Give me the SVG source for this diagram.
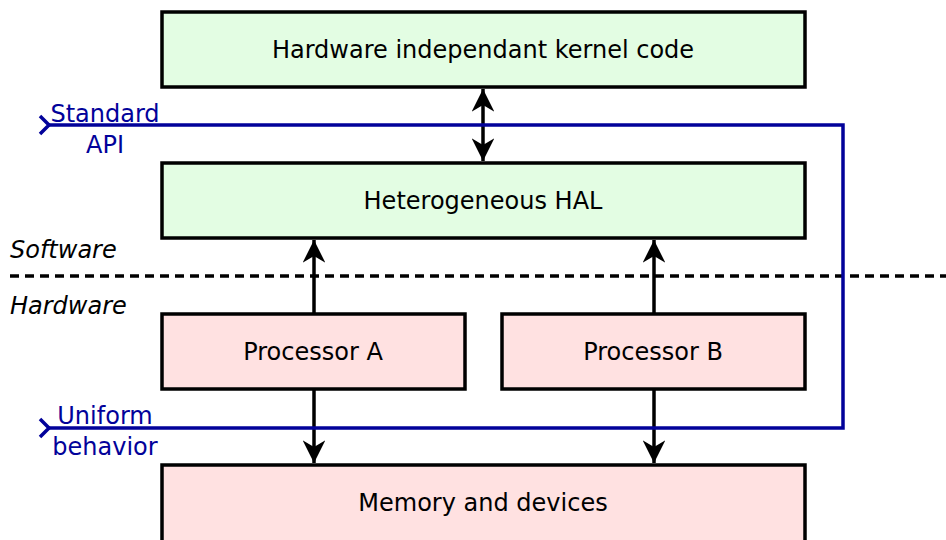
<svg xmlns="http://www.w3.org/2000/svg" width="946" height="540" viewBox="0 0 946 540">
<defs>
<marker id="ah" viewBox="0 0 10 10" refX="10" refY="5" markerWidth="6.5" markerHeight="6.5" markerUnits="strokeWidth" orient="auto-start-reverse">
<path d="M0,0 L10,5 L0,10 L3,5 Z" fill="#000"/>
</marker>
<style>
.sw{fill:#e3fde3;stroke:#000;stroke-width:3.5}
.hw{fill:#ffe1e1;stroke:#000;stroke-width:3.5}
.t{font-family:"DejaVu Sans",sans-serif;font-size:24px;fill:#000;text-anchor:middle}
.it{font-family:"DejaVu Sans",sans-serif;font-size:24px;font-style:italic;fill:#000}
.bt{font-family:"DejaVu Sans",sans-serif;font-size:24px;fill:#02029a;text-anchor:middle}
.c{stroke:#000;stroke-width:3.5;fill:none}
.bl{stroke:#02029a;stroke-width:3.5;fill:none}
</style>
</defs>
<rect width="946" height="540" fill="#fff"/>
<line x1="10" y1="276" x2="946" y2="276" stroke="#000" stroke-width="3.5" stroke-dasharray="9,6"/>
<text class="it" x="10" y="258">Software</text>
<text class="it" x="10" y="314">Hardware</text>
<g id="kernel"><rect class="sw" x="162" y="12" width="643" height="75"/><text class="t" x="483" y="58">Hardware independant kernel code</text></g>
<g id="hal"><rect class="sw" x="162" y="163" width="643" height="75"/><text class="t" x="483" y="209">Heterogeneous HAL</text></g>
<g id="procA"><rect class="hw" x="162" y="314" width="303" height="75"/><text class="t" x="313" y="360">Processor A</text></g>
<g id="procB"><rect class="hw" x="502" y="314" width="303" height="75"/><text class="t" x="653" y="360">Processor B</text></g>
<g id="mem"><rect class="hw" x="162" y="465" width="643" height="90"/><text class="t" x="483" y="511">Memory and devices</text></g>
<g id="connectors">
<line class="c" x1="483" y1="89" x2="483" y2="161" marker-start="url(#ah)" marker-end="url(#ah)"/>
<line class="c" x1="314" y1="314" x2="314" y2="240" marker-end="url(#ah)"/>
<line class="c" x1="654" y1="314" x2="654" y2="240" marker-end="url(#ah)"/>
<line class="c" x1="314" y1="389" x2="314" y2="463" marker-end="url(#ah)"/>
<line class="c" x1="654" y1="389" x2="654" y2="463" marker-end="url(#ah)"/>
</g>
<g id="interfaces">
<path class="bl" d="M49,125 H843 V428 H49"/>
<path class="bl" d="M40,116 L49,125 L40,134" stroke-width="4"/>
<path class="bl" d="M40,419 L49,428 L40,437" stroke-width="4"/>
<text class="bt" x="105" y="122">Standard</text>
<text class="bt" x="105" y="153">API</text>
<text class="bt" x="105" y="424">Uniform</text>
<text class="bt" x="105" y="455">behavior</text>
</g>
</svg>
